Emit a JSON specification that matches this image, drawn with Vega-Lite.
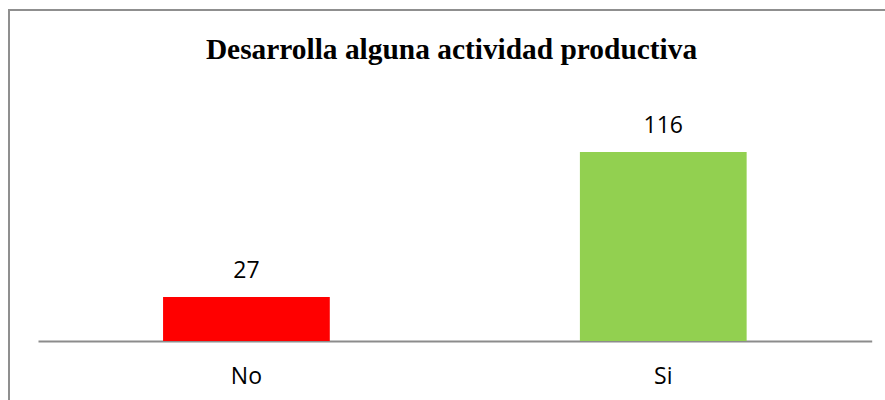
{
  "$schema": "https://vega.github.io/schema/vega-lite/v6.json",
  "width": 885,
  "height": 400,
  "autosize": {"type": "none"},
  "padding": {"left": 9, "top": 10, "right": 0, "bottom": 0},
  "background": "white",
  "config": {"view": {"stroke": "#8f8f8f", "strokeWidth": 2}},
  "title": {
    "text": "Desarrolla alguna actividad productiva",
    "font": "Liberation Serif",
    "fontSize": 29.4,
    "fontWeight": "bold",
    "color": "#000000",
    "anchor": "middle",
    "baseline": "alphabetic",
    "offset": -78
  },
  "data": {"values": [
    {"respuesta": "No", "cantidad": 27},
    {"respuesta": "Si", "cantidad": 116}
  ]},
  "encoding": {
    "x": {
      "field": "respuesta",
      "type": "nominal",
      "sort": null,
      "scale": {"range": [29, 862.7], "paddingInner": 0.6, "paddingOuter": 0.3},
      "axis": {
        "title": null,
        "labelAngle": 0,
        "ticks": false,
        "tickSize": 0,
        "domainColor": "#8c8c8c",
        "domainWidth": 2,
        "labelFont": "Open Sans",
        "labelFontSize": 23,
        "labelColor": "#000000",
        "labelBaseline": "alphabetic",
        "labelPadding": 42,
        "offset": -69
      }
    },
    "y": {
      "field": "cantidad",
      "type": "quantitative",
      "scale": {"domain": [-42.35, 203.2], "nice": false, "zero": false},
      "axis": null
    }
  },
  "layer": [
    {
      "mark": {"type": "bar"},
      "encoding": {
        "y2": {"datum": 0},
        "color": {
          "field": "respuesta",
          "type": "nominal",
          "scale": {"domain": ["No", "Si"], "range": ["#FF0000", "#92D050"]},
          "legend": null
        }
      }
    },
    {
      "mark": {"type": "text", "baseline": "alphabetic", "dy": -19, "font": "Open Sans", "fontSize": 23, "color": "#000000"},
      "encoding": {"text": {"field": "cantidad", "type": "quantitative"}}
    }
  ]
}
